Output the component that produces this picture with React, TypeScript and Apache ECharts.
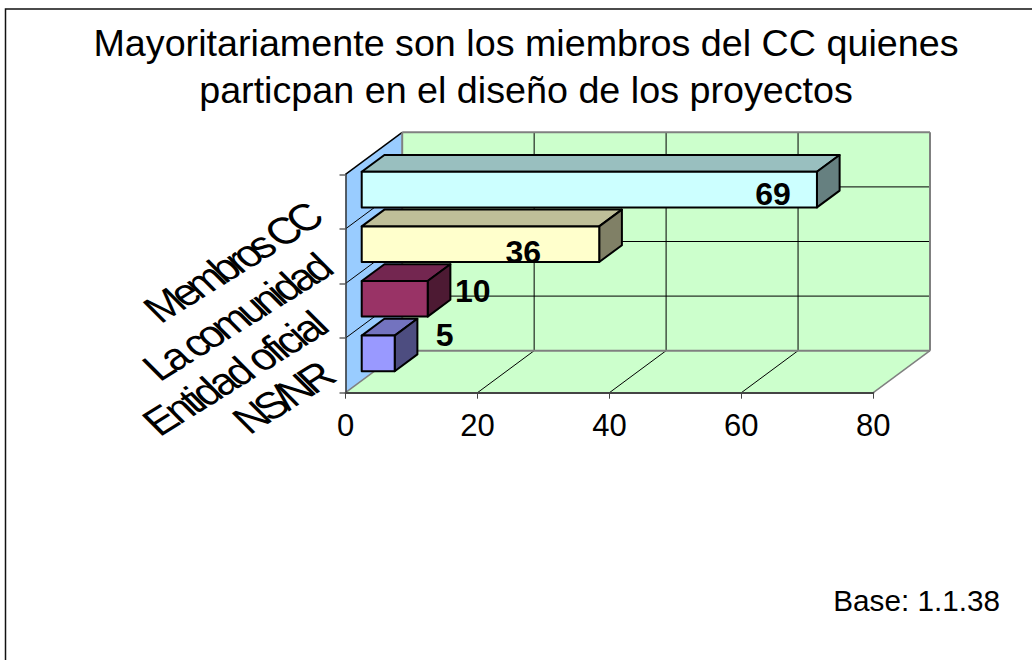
import React, { useEffect, useRef } from "react";
import * as echarts from "echarts";

const titleLines = "Mayoritariamente son los miembros del CC quienes\nparticpan en el diseño de los proyectos";
const categories = ["Membros CC", "La comunidad", "Entidad oficial", "NS/NR"];
const values = [69, 36, 10, 5];
const frontColors = ["#CCFFFF", "#FFFFCC", "#993366", "#9999FF"];
const topColors = ["#99BFBF", "#BFBF99", "#732650", "#7373BF"];
const sideColors = ["#668080", "#808066", "#4D1A33", "#4D4D80"];
const xTicks = [0, 20, 40, 60, 80];
const baseNote = "Base: 1.1.38";

const FONT = '"Liberation Sans", Arial, sans-serif';
const DX = 56.7;
const DY = 42;
const BAR_START = 0.286;
const BAR_DEPTH = 0.4;
const BAR_INSET = 9.5;
const labelOffsets = [[-44, 4], [-76, 8], [45, -8], [50, -18]];
const categoryFeet = [[165, 329], [164, 387], [164, 442], [254, 440]];
const categoryTracking = [-5, -4.4, -3.7, -5.5];

function renderWalls(_: any, api: any) {
  const [x0, yBottomCenter] = api.coord([0, categories.length - 1]);
  const [xEnd, yTopCenter] = api.coord([80, 0]);
  const band = api.size([0, 1])[1];
  const yTop = yTopCenter - band / 2;
  const yBottom = yBottomCenter + band / 2;
  const line = (a: number[], b: number[], stroke: string, lineWidth = 1) => ({
    type: "line",
    shape: { x1: a[0], y1: a[1], x2: b[0], y2: b[1] },
    style: { stroke, lineWidth },
  });
  const poly = (points: number[][], fill: string) => ({ type: "polygon", shape: { points }, style: { fill } });
  const children: any[] = [
    poly([[x0 + DX, yTop - DY], [xEnd + DX, yTop - DY], [xEnd + DX, yBottom - DY], [x0 + DX, yBottom - DY]], "#CCFFCC"),
    poly([[x0, yBottom], [xEnd, yBottom], [xEnd + DX, yBottom - DY], [x0 + DX, yBottom - DY]], "#CCFFCC"),
    poly([[x0, yTop], [x0 + DX, yTop - DY], [x0 + DX, yBottom - DY], [x0, yBottom]], "#99CCFF"),
  ];
  xTicks.slice(1, -1).forEach((t) => {
    const x = api.coord([t, 0])[0];
    children.push(line([x + DX, yTop - DY], [x + DX, yBottom - DY], "#000"));
    children.push(line([x, yBottom], [x + DX, yBottom - DY], "#000"));
  });
  categories.forEach((_c, i) => {
    const y = yTop + band * i;
    if (i > 0) children.push(line([x0 + DX, y - DY], [xEnd + DX, y - DY], "#000"));
    children.push(line([x0, y], [x0 + DX, y - DY], "#000", i === 0 ? 1.5 : 1));
  });
  children.push(line([x0 + DX, yTop - DY], [xEnd + DX, yTop - DY], "#808080", 2));
  children.push(line([x0 + DX, yTop - DY], [x0 + DX, yBottom - DY], "#808080", 2));
  children.push(line([x0 + DX, yBottom - DY], [xEnd + DX, yBottom - DY], "#808080", 2));
  children.push(line([xEnd + DX, yTop - DY], [xEnd + DX, yBottom - DY], "#808080", 2));
  children.push(line([x0, yBottom], [x0 + DX, yBottom - DY], "#808080", 1.5));
  children.push(line([xEnd, yBottom], [xEnd + DX, yBottom - DY], "#808080", 1.5));
  return { type: "group", children };
}

function renderBar(params: any, api: any) {
  const i = params.dataIndex;
  const [xv, yc] = api.coord([api.value(0), api.value(1)]);
  const x00 = api.coord([0, 0])[0];
  const band = api.size([0, 1])[1];
  const ox = DX * BAR_START;
  const oy = DY * BAR_START;
  const dx = DX * BAR_DEPTH;
  const dy = DY * BAR_DEPTH;
  const xl = x00 + ox;
  const xr = xv + ox;
  const yt = yc - band / 2 + BAR_INSET - oy;
  const yb = yc + band / 2 - BAR_INSET - oy;
  const style = (fill: string) => ({ fill, stroke: "#000", lineWidth: 2, lineJoin: "round" });
  return {
    type: "group",
    children: [
      { type: "polygon", shape: { points: [[xl, yt], [xr, yt], [xr + dx, yt - dy], [xl + dx, yt - dy]] }, style: style(topColors[i]) },
      { type: "polygon", shape: { points: [[xr, yt], [xr + dx, yt - dy], [xr + dx, yb - dy], [xr, yb]] }, style: style(sideColors[i]) },
      { type: "polygon", shape: { points: [[xl, yt], [xr, yt], [xr, yb], [xl, yb]] }, style: style(frontColors[i]) },
    ],
  };
}

function renderValueLabel(params: any, api: any) {
  const i = params.dataIndex;
  const [xv, yc] = api.coord([api.value(0), api.value(1)]);
  const ox = DX * BAR_START;
  const oy = DY * BAR_START;
  return {
    type: "text",
    x: xv + ox + labelOffsets[i][0],
    y: yc - oy + labelOffsets[i][1],
    style: {
      text: String(api.value(0)),
      font: `bold 32px ${FONT}`,
      fill: "#000",
      textAlign: "center",
      textVerticalAlign: "middle",
    },
  };
}

function renderCategoryLabel(params: any) {
  const i = params.dataIndex;
  return {
    type: "text",
    x: categoryFeet[i][0],
    y: categoryFeet[i][1],
    rotation: (32 * Math.PI) / 180,
    skewX: (13 * Math.PI) / 180,
    style: {
      text: categories[i],
      font: `41px ${FONT}`,
      fill: "#000",
      textAlign: "left",
      textVerticalAlign: "bottom",
    },
  };
}

export default function App() {
  const ref = useRef<HTMLDivElement>(null);
  useEffect(() => {
    document.body.style.margin = "0";
    const chart = echarts.init(ref.current!, null, { renderer: "svg" });
    const points = values.map((v, i) => [v, i]);
    chart.setOption({
      animation: false,
      backgroundColor: "#fff",
      title: {
        text: titleLines,
        left: 521,
        top: 15,
        textAlign: "center",
        textStyle: { fontFamily: FONT, fontSize: 37.7, fontWeight: "normal", color: "#000", lineHeight: 46.7 },
      },
      grid: { left: 345.5, top: 174.3, width: 527.8, height: 218.4 },
      xAxis: {
        type: "value",
        min: 0,
        max: 80,
        interval: 20,
        z: 5,
        splitLine: { show: false },
        axisLine: { show: true, onZero: false, lineStyle: { color: "#444", width: 2 } },
        axisTick: { show: true, length: 6, lineStyle: { color: "#444", width: 1 } },
        axisLabel: { fontFamily: FONT, fontSize: 31, color: "#000", margin: 17 },
      },
      yAxis: {
        type: "category",
        inverse: true,
        data: categories,
        z: 5,
        axisLine: { show: true, lineStyle: { color: "#333", width: 1.5 } },
        axisTick: { show: true, length: 6, lineStyle: { color: "#666", width: 1.5 } },
        axisLabel: { show: false },
        splitLine: { show: false },
      },
      graphic: [
        {
          type: "polyline",
          shape: { points: [[5.5, 660], [5.5, 9], [1032, 9]] },
          style: { fill: "none", stroke: "#111", lineWidth: 1.5 },
          silent: true,
        },
        {
          type: "text",
          x: 1000,
          y: 600,
          style: { text: baseNote, font: `29.7px ${FONT}`, fill: "#000", textAlign: "right", textVerticalAlign: "middle" },
        },
      ],
      series: [
        { type: "custom", name: "walls", z: 1, data: [[0, 0]], encode: { x: 0, y: 1 }, renderItem: renderWalls },
        { type: "custom", name: "bars", z: 2, data: points, encode: { x: 0, y: 1 }, renderItem: renderBar },
        { type: "custom", name: "values", z: 6, data: points, encode: { x: 0, y: 1 }, renderItem: renderValueLabel },
        { type: "custom", name: "categories", z: 6, data: points, encode: { x: 0, y: 1 }, renderItem: renderCategoryLabel },
      ],
    });
    ref.current!.querySelectorAll("text").forEach((el) => {
      const i = categories.indexOf(el.textContent || "");
      if (i >= 0) (el as SVGTextElement).style.letterSpacing = `${categoryTracking[i]}px`;
    });
    return () => chart.dispose();
  }, []);
  return <div ref={ref} style={{ width: 1032, height: 660 }} />;
}
